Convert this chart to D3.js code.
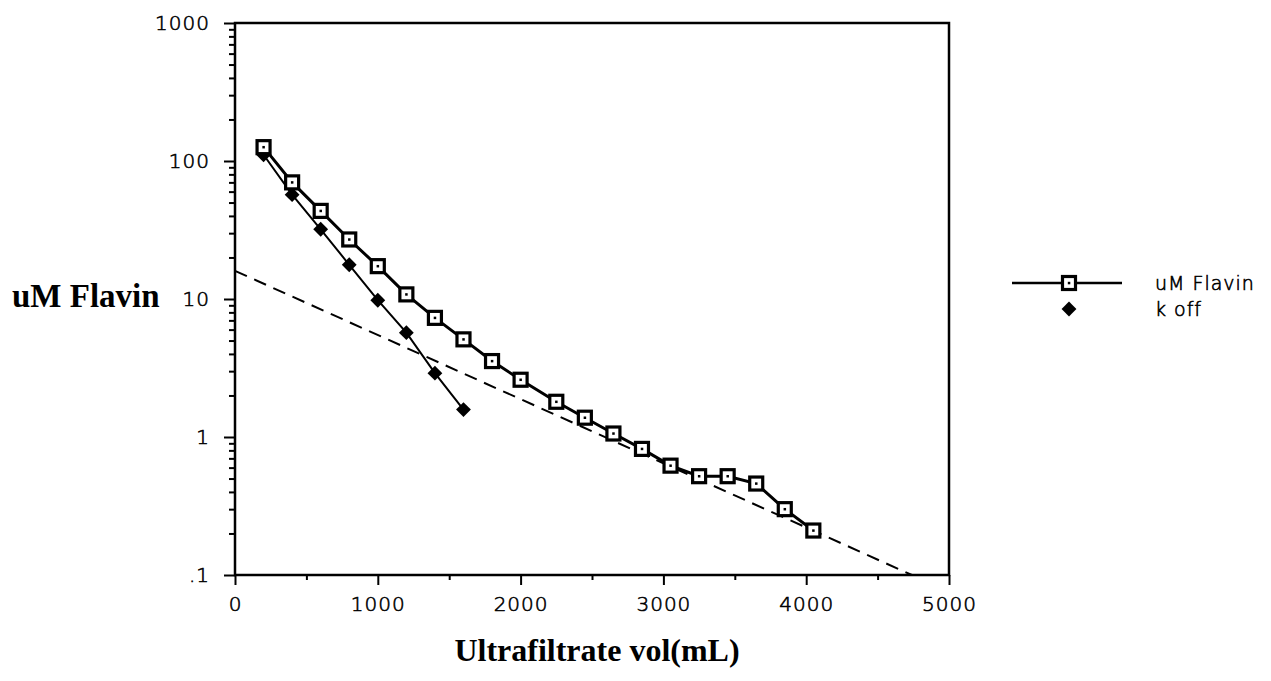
<!DOCTYPE html>
<html>
<head>
<meta charset="utf-8">
<script src="https://cdn.jsdelivr.net/npm/d3@7"></script>
<style>
  body { margin: 0; background: #fff; }
  .tick text { font-family: "DejaVu Sans ExtraLight", "DejaVu Sans", sans-serif; font-weight: 200; font-size: 20px; letter-spacing: 1px; fill: #000; stroke: #000; stroke-width: 0.6px; }
  .label { font-family: "Liberation Serif", "Times New Roman", serif; font-weight: bold; fill: #000; }
  .legend text { font-family: "DejaVu Sans ExtraLight", "DejaVu Sans", sans-serif; font-weight: 200; font-size: 19px; letter-spacing: 1px; fill: #000; stroke: #000; stroke-width: 0.6px; }
</style>
</head>
<body>
<svg id="svg" width="1271" height="681"></svg>
<script>
// uM Flavin series
const flavinX = [200, 400, 600, 800, 1000, 1200, 1400, 1600, 1800, 2000,
                 2250, 2450, 2650, 2850, 3050, 3250, 3450, 3650, 3850, 4050];
const flavinY = [126, 70, 43.5, 27, 17.3, 10.8, 7.3, 5.1, 3.55, 2.6,
                 1.8, 1.38, 1.06, 0.82, 0.62, 0.52, 0.52, 0.46, 0.30, 0.21];

// k off series
const koffX = [200, 400, 600, 800, 1000, 1200, 1400, 1600];
const koffY = [111, 57, 32, 17.7, 9.8, 5.7, 2.9, 1.58];

// dashed fit line (end points)
const fitX = [0, 4740];
const fitY = [16, 0.1];

// ticks
const xMajor = [0, 1000, 2000, 3000, 4000, 5000];
const xMinor = [500, 1500, 2500, 3500, 4500];
const yMajor = [0.1, 1, 10, 100, 1000];
const yMajorLabels = [".1", "1", "10", "100", "1000"];

const plotLeft = 235, plotRight = 949, plotTop = 23, plotBottom = 575;

const svg = d3.select('#svg');

const x = d3.scaleLinear().domain([0, 5000]).range([plotLeft, plotRight]);
const y = d3.scaleLog().domain([0.1, 1000]).range([plotBottom, plotTop]);

// minor log ticks 2..9 in every decade
const yMinor = [];
yMajor.slice(0, -1).forEach(d => {
  for (let k = 2; k <= 9; k++) yMinor.push(d * k);
});

// bottom axis
svg.append("g")
  .attr("transform", "translate(0," + plotBottom + ")")
  .call(d3.axisBottom(x).tickValues(xMajor).tickSize(10).tickPadding(12).tickFormat(d3.format("d")))
  .call(g => g.select(".domain").remove());

svg.append("g")
  .attr("transform", "translate(0," + plotBottom + ")")
  .call(d3.axisBottom(x).tickValues(xMinor).tickSize(5).tickFormat(""))
  .call(g => g.select(".domain").remove());

// left axis
svg.append("g")
  .attr("transform", "translate(" + plotLeft + ",0)")
  .call(d3.axisLeft(y).tickValues(yMajor).tickSize(11).tickPadding(14)
    .tickFormat((d, i) => yMajorLabels[i]))
  .call(g => g.select(".domain").remove());

svg.append("g")
  .attr("transform", "translate(" + plotLeft + ",0)")
  .call(d3.axisLeft(y).tickValues(yMinor).tickSize(6).tickFormat(""))
  .call(g => g.select(".domain").remove());

svg.selectAll(".tick line").attr("stroke", "#000").attr("stroke-width", 2);

// frame
svg.append("rect")
  .attr("x", plotLeft).attr("y", plotTop)
  .attr("width", plotRight - plotLeft).attr("height", plotBottom - plotTop)
  .attr("fill", "none").attr("stroke", "#000").attr("stroke-width", 2.5);

// dashed line
svg.append("path")
  .datum(fitX.map((d, i) => [d, fitY[i]]))
  .attr("d", d3.line().x(d => x(d[0])).y(d => y(d[1])))
  .attr("fill", "none").attr("stroke", "#000").attr("stroke-width", 2)
  .attr("stroke-dasharray", "13,8");

// k off line + diamonds
const koff = koffX.map((d, i) => [d, koffY[i]]);
svg.append("path")
  .datum(koff)
  .attr("d", d3.line().x(d => x(d[0])).y(d => y(d[1])))
  .attr("fill", "none").attr("stroke", "#000").attr("stroke-width", 2);

const diamond = d3.symbol().type(d3.symbolSquare).size(110);
svg.selectAll(".koff")
  .data(koff)
  .enter()
  .append("path")
  .attr("d", diamond)
  .attr("transform", d => "translate(" + x(d[0]) + "," + y(d[1]) + ") rotate(45)")
  .attr("fill", "#000");

// flavin line + squares
const flavin = flavinX.map((d, i) => [d, flavinY[i]]);
svg.append("path")
  .datum(flavin)
  .attr("d", d3.line().x(d => x(d[0])).y(d => y(d[1])))
  .attr("fill", "none").attr("stroke", "#000").attr("stroke-width", 3);

function squareMark(g, cx, cy) {
  g.append("rect")
    .attr("x", cx - 6.5).attr("y", cy - 6.5).attr("width", 13).attr("height", 13)
    .attr("fill", "#fff").attr("stroke", "#000").attr("stroke-width", 3.2);
  g.append("rect")
    .attr("x", cx - 1.2).attr("y", cy - 1.2).attr("width", 2.5).attr("height", 2.5)
    .attr("fill", "#000");
}
flavin.forEach(d => squareMark(svg, x(d[0]), y(d[1])));

// axis titles
svg.append("text")
  .attr("class", "label")
  .attr("x", 12).attr("y", 307)
  .style("font-size", "33px")
  .text("uM Flavin");

svg.append("text")
  .attr("class", "label")
  .attr("text-anchor", "middle")
  .attr("x", 597).attr("y", 661)
  .style("font-size", "32px")
  .text("Ultrafiltrate vol(mL)");

// legend
const legend = svg.append("g").attr("class", "legend");
legend.append("line")
  .attr("x1", 1012).attr("x2", 1122).attr("y1", 283).attr("y2", 283)
  .attr("stroke", "#000").attr("stroke-width", 2.5);
squareMark(legend, 1069, 283);
legend.append("text").attr("x", 1155).attr("y", 290).text("uM Flavin");

legend.append("path")
  .attr("d", diamond)
  .attr("transform", "translate(1069,309) rotate(45)")
  .attr("fill", "#000");
legend.append("text").attr("x", 1155).attr("y", 316).text("k off");
</script>
</body>
</html>
